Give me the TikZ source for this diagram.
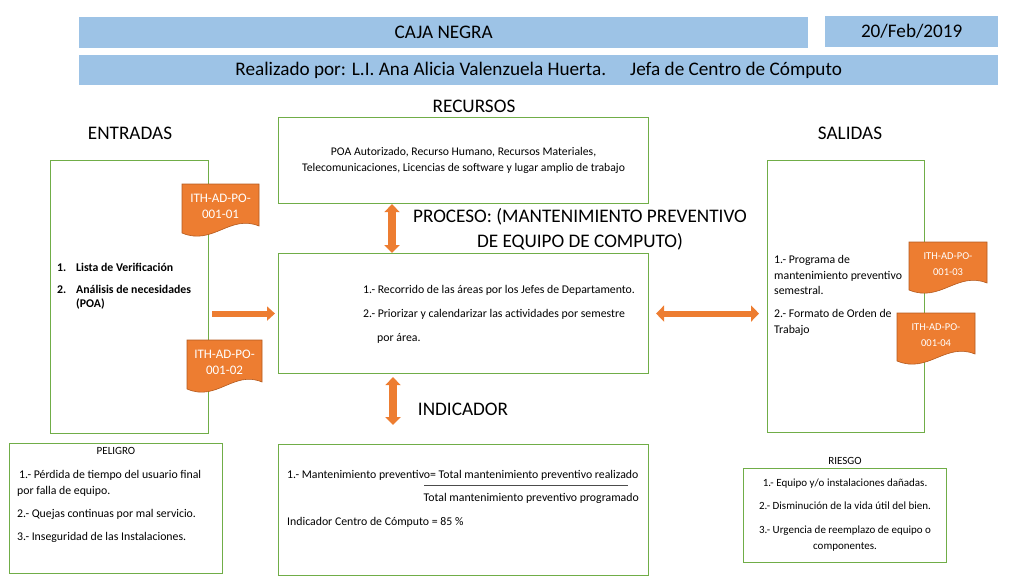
\documentclass[tikz,border=0pt]{standalone}
\usepackage{fontspec}
\setmainfont{Carlito}
\usetikzlibrary{arrows.meta,calc}
\definecolor{hdr}{HTML}{9DC3E6}
\definecolor{grn}{HTML}{70AD47}
\definecolor{org}{HTML}{ED7D31}
\definecolor{orgd}{HTML}{B45A1E}
\newcommand\docshape[7]{%
  \filldraw[fill=org, draw=orgd, line width=0.6pt]
    (#2,#3) -- ({#2+#4},#3) -- ({#2+#4},{#3+#5-10})
    .. controls ({#2+0.62*#4},{#3+#5-22}) and ({#2+0.40*#4},{#3+#5+10}) .. ({#2},{#3+#5-3}) -- cycle;
  \node[doctext, font=\fontsize{#6}{16}\selectfont] (#1) at ({#2+0.5*#4},{#3+22}) {#7};}
\tikzset{
  hdrbox/.style={fill=hdr, draw=none, inner sep=0pt, anchor=north west, font=\fontsize{19.2}{22}\selectfont},
  lbl/.style={inner sep=0pt, font=\fontsize{19.2}{25}\selectfont},
  gbox/.style={draw=grn, line width=1.1pt, inner sep=0pt, anchor=north west},
  doctext/.style={text=white, align=center, inner sep=0pt},
  txt/.style={inner sep=0pt, align=left, font=\fontsize{11.8}{16}\selectfont},
  arr/.style={draw=org, line width=6pt, -{Triangle[length=8pt,width=14pt]}},
  darr/.style={draw=org, line width=6pt, {Triangle[length=8pt,width=16pt]}-{Triangle[length=8pt,width=16pt]}},
  vdarr/.style={draw=org, line width=8pt, {Triangle[length=8pt,width=15pt]}-{Triangle[length=8pt,width=15pt]}}
}
\begin{document}
\begin{tikzpicture}[x=1pt,y=-1pt]
\useasboundingbox (0,0) rectangle (1024,576);
% header
\node[hdrbox, minimum width=729pt, minimum height=31pt] (title) at (79,17) {CAJA NEGRA};
\node[hdrbox, minimum width=173pt, minimum height=31pt] (date) at (825,16) {20/Feb/2019};
\node[hdrbox, minimum width=919pt, minimum height=30pt] (author) at (79,55)
  {Realizado por: L.I. Ana Alicia Valenzuela Huerta.\hspace{24pt}Jefa de Centro de Cómputo};
% labels
\node[lbl] (lrec) at (474,106) {RECURSOS};
\node[lbl] (lent) at (130,133) {ENTRADAS};
\node[lbl] (lsal) at (850,133) {SALIDAS};
\node[lbl, align=center] (ptitle) at (580,229.5) {PROCESO: (MANTENIMIENTO PREVENTIVO\\DE EQUIPO DE COMPUTO)};
\node[lbl] (lind) at (463,409) {INDICADOR};
% boxes
\node[gbox, minimum width=370pt, minimum height=86pt, align=center, font=\fontsize{11.7}{16}\selectfont] (rec) at (278,117)
  {POA Autorizado, Recurso Humano, Recursos Materiales,\\Telecomunicaciones, Licencias de software y lugar amplio de trabajo};
\node[gbox, minimum width=158pt, minimum height=273pt] (ent) at (50,160) {};
\node[gbox, minimum width=370pt, minimum height=120pt] (proc) at (278,253) {};
\node[gbox, minimum width=157pt, minimum height=272pt] (sal) at (767,160) {};
\node[gbox, minimum width=213pt, minimum height=130pt] (pel) at (9,443) {};
\node[gbox, minimum width=370pt, minimum height=131pt] (ind) at (278,444) {};
\node[gbox, minimum width=203pt, minimum height=94pt, align=center, font=\fontsize{11}{16}\selectfont] (rie) at (743,468)
  {1.- Equipo y/o instalaciones dañadas.\\[7pt]2.- Disminución de la vida útil del bien.\\[8pt]3.- Urgencia de reemplazo de equipo o\\componentes.};
% texts
\node[txt, anchor=west, font=\bfseries\fontsize{11.8}{14}\selectfont] (entt) at (57,286)
  {\makebox[19pt][l]{1.}Lista de Verificación\\[8pt]\makebox[19pt][l]{2.}Análisis de necesidades\\\hspace*{19pt}(POA)};
\node[txt, anchor=west, font=\fontsize{11.8}{24}\selectfont] (proct) at (363,314)
  {1.- Recorrido de las áreas por los Jefes de Departamento.\\2.- Priorizar y calendarizar las actividades por semestre\\\hspace*{14pt}por área.};
\node[txt, anchor=west, font=\fontsize{11.8}{15.5}\selectfont] (salt) at (774,295.5)
  {1.- Programa de\\mantenimiento preventivo\\semestral.\\[7.5pt]2.- Formato de Orden de\\Trabajo};
\node[txt, font=\fontsize{11}{16}\selectfont] (pelh) at (116,451) {PELIGRO};
\node[txt, anchor=west] (pelt) at (17,506)
  {\hspace*{2pt}1.- Pérdida de tiempo del usuario final\\por falla de equipo.\\[7pt]2.- Quejas continuas por mal servicio.\\[7pt]3.- Inseguridad de las Instalaciones.};
\node[txt, anchor=west] (ind1) at (287,475) {1.- Mantenimiento preventivo= Total mantenimiento preventivo realizado};
\node[txt, anchor=east] (ind2) at (639,498) {Total mantenimiento preventivo programado};
\node[txt, anchor=west] (ind3) at (287,522) {Indicador Centro de Cómputo = 85 \%};
\draw[line width=0.7pt, black!70] (424,485) -- (628,485);
\node[txt, font=\fontsize{11}{16}\selectfont] (rieh) at (845,461) {RIESGO};
% documents
\docshape{d1}{182}{184}{77}{52}{13}{ITH-AD-PO-\\001-01}
\docshape{d2}{187}{340}{75}{52}{13}{ITH-AD-PO-\\001-02}
\docshape{d3}{909}{242}{78}{51}{10.5}{ITH-AD-PO-\\001-03}
\docshape{d4}{897}{313}{78}{51}{10.5}{ITH-AD-PO-\\001-04}
% arrows
\draw[arr, shorten <=3pt, shorten >=3pt] (proc.west -| ent.east) -- (proc.west);
\draw[darr, shorten <=7pt, shorten >=8pt] (proc.east) -- (proc.east -| sal.west);
\coordinate (vt) at ($(rec.south west)+(114,0)$);
\draw[vdarr] (vt) -- (vt |- proc.north);
\coordinate (vb) at ($(proc.south west)+(115,0)$);
\coordinate (vbend) at (393,425);
\draw[vdarr, shorten <=3pt] (vb) -- (vbend);
\end{tikzpicture}
\end{document}
